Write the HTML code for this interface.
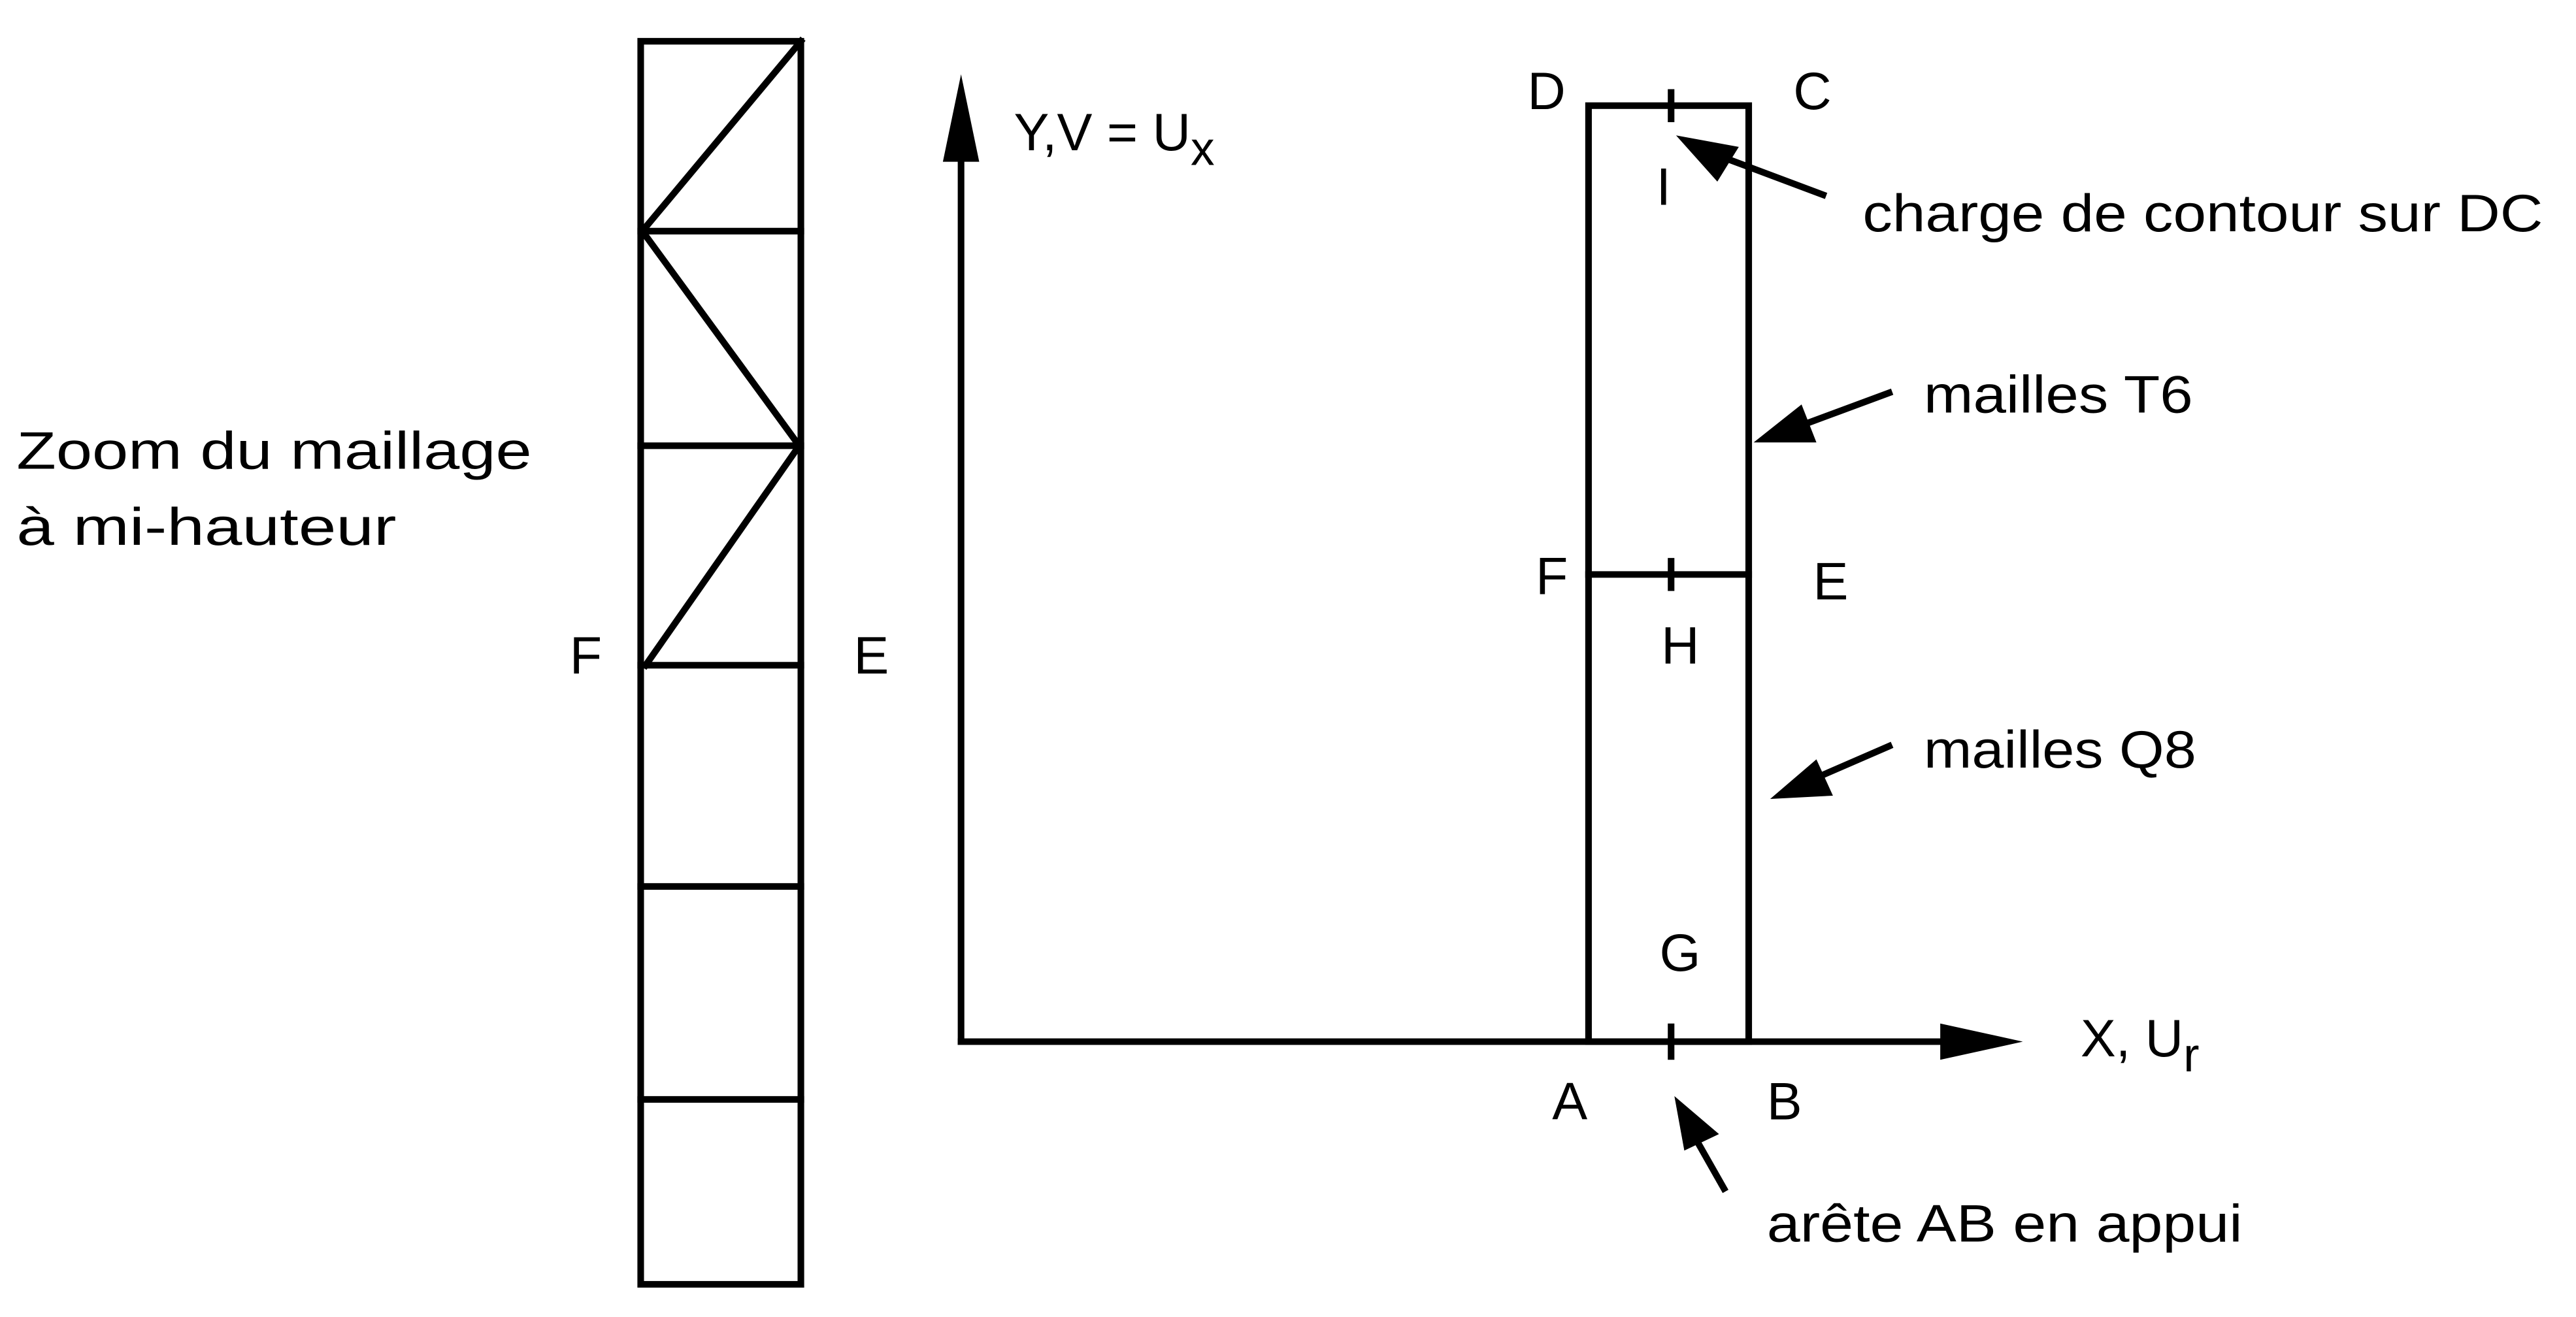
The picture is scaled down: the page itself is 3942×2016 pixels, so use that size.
<!DOCTYPE html>
<html><head><meta charset="utf-8"><style>
html,body{margin:0;padding:0;background:#fff;}
svg{display:block;}
text{font-family:"Liberation Sans",sans-serif;font-size:32px;fill:#000;}
</style></head><body>
<svg width="3942" height="2016" viewBox="0 0 1560 797.8" preserveAspectRatio="none" xmlns="http://www.w3.org/2000/svg">
<g stroke="#000" stroke-width="4" fill="none" stroke-linecap="square">
<rect x="388" y="25" width="97" height="753"/>
<line x1="388" y1="140" x2="485" y2="140"/>
<line x1="388" y1="270" x2="485" y2="270"/>
<line x1="388" y1="403" x2="485" y2="403"/>
<line x1="388" y1="537" x2="485" y2="537"/>
<line x1="388" y1="666" x2="485" y2="666"/>
<line x1="485" y1="25" x2="389" y2="140"/>
<line x1="389" y1="140" x2="484" y2="270"/>
<line x1="484" y1="270" x2="391" y2="403"/>
<line x1="582" y1="90" x2="582" y2="631"/>
<line x1="582" y1="631" x2="1178" y2="631"/>
<rect x="962" y="64" width="97" height="567"/>
<line x1="962" y1="348" x2="1059" y2="348"/>
<line x1="1012" y1="56" x2="1012" y2="72"/>
<line x1="1012" y1="340" x2="1012" y2="356"/>
<line x1="1012" y1="622" x2="1012" y2="640"/>
<line x1="1104" y1="118" x2="1040" y2="94"/>
<line x1="1144" y1="238" x2="1090" y2="258"/>
<line x1="1144" y1="452" x2="1098" y2="472"/>
<line x1="1044" y1="720" x2="1027" y2="690"/>
</g>
<g fill="#000">
<polygon points="582,45 571,98 593,98"/>
<polygon points="1225,631 1175,620 1175,642"/>
<polygon points="1015,82 1053,89 1040,110"/>
<polygon points="1062,268 1091,245 1100,268"/>
<polygon points="1072,484 1100,460 1110,482"/>
<polygon points="1014,664 1041,687 1020,697"/>
</g>
<text x="10" y="284" textLength="312" lengthAdjust="spacingAndGlyphs">Zoom du maillage</text>
<text x="10" y="330" textLength="230" lengthAdjust="spacingAndGlyphs">à mi-hauteur</text>
<text x="345" y="408">F</text>
<text x="517" y="408">E</text>
<text x="614" y="91">Y,V = U<tspan font-size="29" dy="9">x</tspan></text>
<text x="925" y="66">D</text>
<text x="1086" y="66">C</text>
<text x="1003" y="124">I</text>
<text x="1128" y="140" textLength="412" lengthAdjust="spacingAndGlyphs">charge de contour sur DC</text>
<text x="1165" y="250" textLength="163" lengthAdjust="spacingAndGlyphs">mailles T6</text>
<text x="930" y="360">F</text>
<text x="1098" y="363">E</text>
<text x="1006" y="402">H</text>
<text x="1165" y="465" textLength="165" lengthAdjust="spacingAndGlyphs">mailles Q8</text>
<text x="1005" y="588">G</text>
<text x="1260" y="640">X, U<tspan font-size="29" dy="9">r</tspan></text>
<text x="940" y="678">A</text>
<text x="1070" y="678">B</text>
<text x="1070" y="752" textLength="288" lengthAdjust="spacingAndGlyphs">arête AB en appui</text>
</svg>
</body></html>
